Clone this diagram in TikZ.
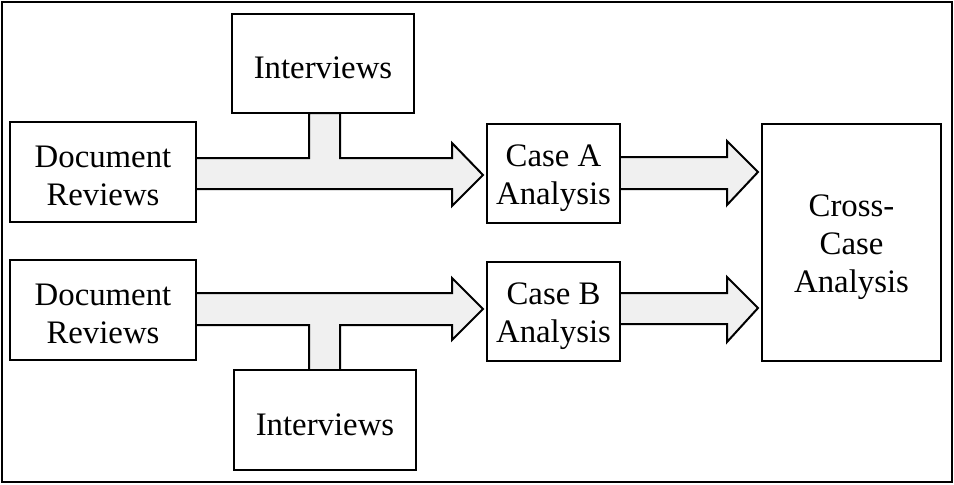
\documentclass[tikz,border=0pt]{standalone}
\usepackage{fontspec}
\setmainfont{Liberation Serif}
\begin{document}
\begin{tikzpicture}[x=0.5pt,y=-0.5pt,
  box/.style={draw=black, line width=1pt, fill=white,
    inner sep=0pt, outer sep=0pt},
  txt/.style={align=center, inner sep=0pt, yshift=-2.2pt,
    font=\fontsize{16.4pt}{19pt}\selectfont},
  fat/.style={draw=black, line width=1pt, fill=black!6, line join=miter}]
\useasboundingbox (0,0) rectangle (954,484);
\draw[line width=1pt] (2,2) rectangle (952,482);

% block arrows
\draw[fat] (196,158) -- (309,158) -- (309,113) -- (340,113) -- (340,158) -- (452,158)
  -- (452,143) -- (483,175) -- (452,206) -- (452,189) -- (196,189);
\draw[fat] (196,325) -- (309,325) -- (309,370) -- (340,370) -- (340,325) -- (452,325)
  -- (452,340) -- (483,309) -- (452,278) -- (452,293) -- (196,293);
\draw[fat] (620,157) -- (727,157) -- (727,141) -- (758,172) -- (727,205) -- (727,189) -- (620,189);
\draw[fat] (620,293) -- (727,293) -- (727,277) -- (758,308) -- (727,342) -- (727,324) -- (620,324);

% boxes, each with its text set a little below the centre
\node[box, minimum width=91pt, minimum height=49.5pt,
  label={[txt]center:Interviews}] (intA) at (323,63.5) {};
\node[box, minimum width=93pt, minimum height=50pt,
  label={[txt]center:{Document\\Reviews}}] (docA) at (103,172) {};
\node[box, minimum width=66.5pt, minimum height=49.5pt,
  label={[txt]center:{Case A\\Analysis}}] (caseA) at (553.5,173.5) {};
\node[box, minimum width=89.5pt, minimum height=118.5pt,
  label={[txt]center:{Cross-\\Case\\Analysis}}] (cross) at (851.5,242.5) {};
\node[box, minimum width=93pt, minimum height=50pt,
  label={[txt]center:{Document\\Reviews}}] (docB) at (103,310) {};
\node[box, minimum width=66.5pt, minimum height=49.5pt,
  label={[txt]center:{Case B\\Analysis}}] (caseB) at (553.5,311.5) {};
\node[box, minimum width=91pt, minimum height=50pt,
  label={[txt]center:Interviews}] (intB) at (325,420) {};
\end{tikzpicture}
\end{document}
